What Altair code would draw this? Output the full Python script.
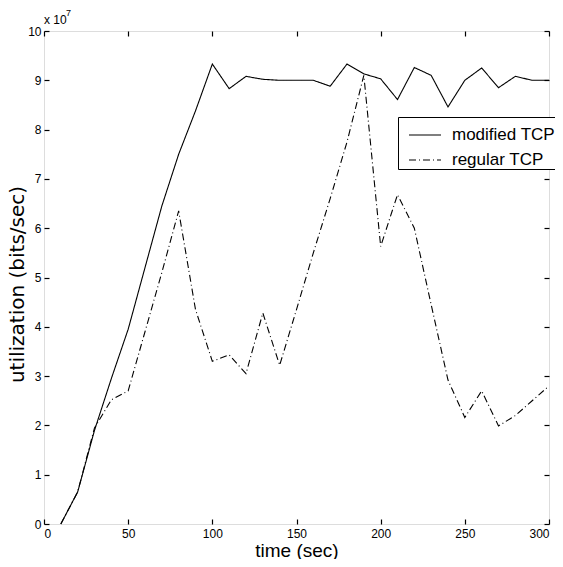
import altair as alt
import pandas as pd

time = [10, 20, 30, 40, 50, 60, 70, 80, 90, 100, 110, 120, 130, 140, 150,
        160, 170, 180, 190, 200, 210, 220, 230, 240, 250, 260, 270, 280, 290, 300]
modified = [0.0, 0.65, 1.9, 2.95, 3.95, 5.2, 6.45, 7.5, 8.38, 9.33, 8.83, 9.08, 9.02, 9.0, 9.0,
            9.0, 8.88, 9.33, 9.13, 9.03, 8.61, 9.26, 9.1, 8.46, 9.0, 9.25, 8.85, 9.08, 9.0, 9.0]
regular = [0.0, 0.65, 1.95, 2.52, 2.7, 3.9, 5.1, 6.35, 4.35, 3.3, 3.43, 3.05, 4.28, 3.22, 4.35,
           5.5, 6.6, 7.75, 9.1, 5.63, 6.68, 6.0, 4.45, 2.92, 2.16, 2.7, 1.99, 2.2, 2.5, 2.8]
series_names = ["modified TCP", "regular TCP"]
x_ticks = [0, 50, 100, 150, 200, 250, 300]
y_ticks = [0, 1, 2, 3, 4, 5, 6, 7, 8, 9, 10]

rows = []
for name, vals in zip(series_names, [modified, regular]):
    for t, v in zip(time, vals):
        rows.append({"time": t, "util": v, "series": name})
df = pd.DataFrame(rows)

FONT = "Liberation Sans"

xscale = alt.Scale(domain=[0, 300], nice=False, zero=False)
yscale = alt.Scale(domain=[0, 10], nice=False)

common_axis = dict(grid=False, domain=False, tickSize=5, offset=-5, tickColor="black",
                   tickWidth=1.2, labelColor="black", labelFont=FONT, labelFontSize=12,
                   titleColor="black", titleFontWeight="normal")

lines = alt.Chart(df).mark_line(color="black", strokeWidth=1.1).encode(
    x=alt.X("time:Q", scale=xscale,
            axis=alt.Axis(values=x_ticks, orient="bottom", title="time (sec)", titleFont=FONT,
                          titleFontSize=19, labelPadding=4, titlePadding=2, **common_axis)),
    y=alt.Y("util:Q", scale=yscale,
            axis=alt.Axis(values=y_ticks, orient="left", title="utilization (bits/sec)",
                          titleFont="DejaVu Sans", titleFontSize=20, labelPadding=3,
                          titlePadding=0, titleY=253, **common_axis)),
    strokeDash=alt.StrokeDash("series:N",
                              scale=alt.Scale(domain=series_names, range=[[1, 0], [7, 3, 1, 3]]),
                              legend=alt.Legend(title=None, orient="none", legendX=354, legendY=86,
                                                symbolType="stroke", symbolSize=1024,
                                                symbolStrokeColor="black", symbolStrokeWidth=1.1,
                                                symbolOffset=9,
                                                labelFont=FONT, labelFontSize=17, labelColor="black",
                                                labelOffset=10, rowPadding=0,
                                                strokeColor="black", fillColor="white",
                                                padding=1)),
    detail="series:N",
)

frame_axes = alt.Chart(df).mark_point(opacity=0).encode(
    x=alt.X("time:Q", scale=xscale,
            axis=alt.Axis(values=x_ticks, orient="top", labels=False, title=None, **common_axis)),
    y=alt.Y("util:Q", scale=yscale,
            axis=alt.Axis(values=y_ticks, orient="right", labels=False, title=None, **common_axis)),
)

exp_base = alt.Chart(pd.DataFrame({"t": ["x 10"]})).mark_text(
    align="left", baseline="alphabetic", font=FONT, fontSize=12, color="black"
).encode(x=alt.value(0), y=alt.value(-7), text="t:N")

exp_sup = alt.Chart(pd.DataFrame({"t": ["7"]})).mark_text(
    align="left", baseline="alphabetic", font=FONT, fontSize=9, color="black"
).encode(x=alt.value(22), y=alt.value(-15), text="t:N")

chart = alt.layer(lines, frame_axes, exp_base, exp_sup).resolve_axis(
    x="independent", y="independent"
).properties(
    width=505, height=493,
    autosize=alt.AutoSizeParams(type="none"),
    padding={"left": 36, "top": 23, "right": 6, "bottom": 35},
).configure_view(stroke="black", strokeWidth=1.5).configure(background="white")

chart.save("out.html", embed_options={"renderer": "svg", "actions": False})
